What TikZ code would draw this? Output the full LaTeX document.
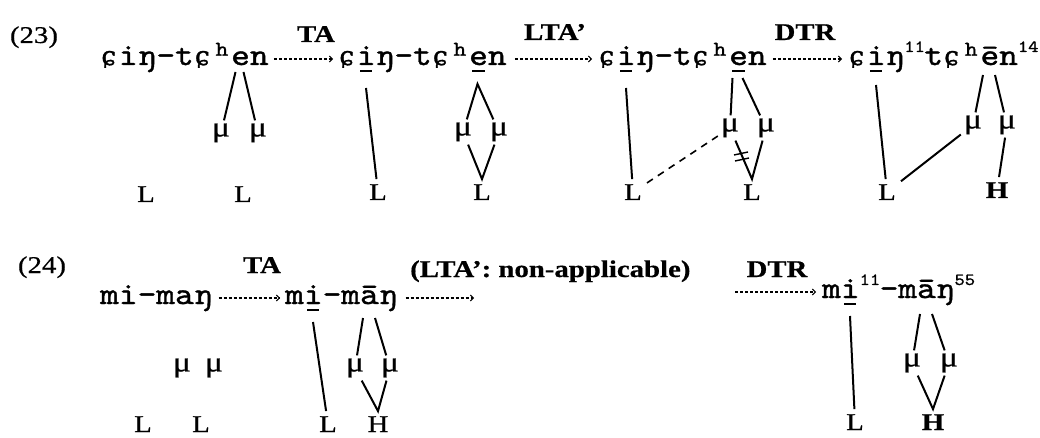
\documentclass[tikz,border=0pt]{standalone}
\usepackage{fontspec}
\setmainfont{Liberation Serif}[FakeStretch=1.2, FakeBold=0.6]
\newfontfamily\typew{lmmono10-regular.otf}[FakeStretch=1.15, FakeBold=1.2]
\newfontfamily\ipafont{DejaVu Serif}[Scale=0.85, FakeBold=1.2]
\usetikzlibrary{arrows.meta}

\newcommand{\cz}{\rlap{\hspace{.04em}\ipafont ɕ}\hphantom{x}}
\newcommand{\asp}{\rlap{\hspace{.1em}\raisebox{.3em}{\fontsize{21}{21}\selectfont h}}\hphantom{x}}
\newcommand{\uv}[1]{\makebox[0pt][l]{\hspace{.1em}\rule[-.24em]{.4em}{.07em}}#1}
\newcommand{\tnum}[1]{\makebox[20pt][l]{\raisebox{.42em}{\fontsize{17}{17}\selectfont #1}}}

\tikzset{
  word/.style={font=\typew\fontsize{31}{31}\selectfont, inner sep=0pt, anchor=base west},
  mora/.style={font=\fontsize{28}{28}\selectfont, inner sep=3pt},
  tone/.style={font=\fontsize{24}{24}\selectfont, inner sep=5pt, anchor=base},
  exnum/.style={font=\fontsize{24}{24}\selectfont, anchor=base},
  rulename/.style={font=\bfseries\fontsize{24}{24}\selectfont, anchor=base, inner sep=0pt},
  assoc/.style={line width=2pt},
  derive/.style={line width=1.1pt, dash pattern=on 3pt off 2pt,
    -{Straight Barb[length=3pt,width=6pt,line width=1pt]}},
}

\begin{document}
\begin{tikzpicture}[x=1pt,y=-1pt]
\useasboundingbox (0,0) rectangle (1040,438);

% (23)
\node[exnum] (ex23) at (34,43) {(23)};
\node[rulename] (ta1) at (316,42) {TA};
\node[rulename] (lta1) at (555,40) {LTA’};
\node[rulename] (dtr1) at (805,40) {DTR};

\node[word] (w1) at (100,65) {\cz iŋ-t\cz\asp en};
\node[word] (w2) at (338,65) {\cz\uv{i}ŋ-t\cz\asp\uv{e}n};
\node[word] (w3) at (598,65) {\cz\uv{i}ŋ-t\cz\asp\uv{e}n};
\node[word] (w4) at (848,65) {\cz\uv{i}ŋ\tnum{11}t\cz\asp ēn\tnum{14}};

\draw[derive] ([shift={(5pt,6pt)}]w1.base east) -- ([shift={(-5pt,6pt)}]w2.base west);
\draw[derive] ([shift={(8pt,6pt)}]w2.base east) -- ([shift={(-6pt,6pt)}]w3.base west);
\draw[derive] ([shift={(6pt,6pt)}]w3.base east) -- ([shift={(-6pt,6pt)}]w4.base west);

% first form
\coordinate (w1e) at (239.5,72);
\node[mora] (m1) at (221,133) {μ};
\node[mora] (m2) at (258,133) {μ};
\node[tone] (l1) at (146,202) {L};
\node[tone] (l2) at (243,202) {L};
\draw[assoc] ([xshift=-4pt]w1e) -- (m1);
\draw[assoc] ([xshift=4pt]w1e) -- (m2);

% after TA
\coordinate (w2i) at (366,88);
\coordinate (w2e) at (477.5,84);
\node[mora] (m3) at (463,132) {μ};
\node[mora] (m4) at (499,132) {μ};
\node[tone] (l3) at (378,200) {L};
\node[tone] (l4) at (482,200) {L};
\draw[assoc] (w2i) -- (l3);
\draw[assoc] (m3) -- (w2e) -- (m4);
\draw[assoc] (m3) -- (l4.north) -- (m4);

% after LTA'
\coordinate (w3i) at (626,88);
\coordinate (w3e) at (737.5,78);
\node[mora] (m5) at (730,128) {μ};
\node[mora] (m6) at (766,128) {μ};
\node[tone] (l5) at (633,200) {L};
\node[tone] (l6) at (752,200) {L};
\draw[assoc] (w3i) -- (l5);
\draw[assoc] ([xshift=-5pt]w3e) -- (m5);
\draw[assoc] ([xshift=5pt]w3e) -- (m6);
\draw[assoc] (m5) -- (l6.north) -- (m6);
\draw[line width=1.6pt, dash pattern=on 7pt off 6pt] (l5) -- (m5);
% delinking mark
\draw[line width=1.4pt] (734,155) -- (748,152) (735,161) -- (749,158);

% after DTR
\coordinate (w4i) at (876,85);
\coordinate (w4e) at (989,75);
\node[mora] (m7) at (973,125) {μ};
\node[mora] (m8) at (1007,125) {μ};
\node[tone] (l7) at (887,200) {L};
\node[tone, font=\bfseries\fontsize{24}{24}\selectfont] (h1) at (997,198) {H};
\draw[assoc] (w4i) -- (l7);
\draw[assoc] ([xshift=-6pt]w4e) -- (m7);
\draw[assoc] ([xshift=6pt]w4e) -- (m8);
\draw[assoc] (m7) -- (l7);
\draw[assoc] (m8) -- (h1);

% (24)
\node[exnum] (ex24) at (42,273) {(24)};
\node[rulename] (ta2) at (262,273) {TA};
\node[rulename, anchor=base west] (lta2) at (410,277) {(LTA’: non-applicable)};
\node[rulename] (dtr2) at (777,277) {DTR};

\node[word] (w5) at (100,304) {mi-maŋ};
\node[word] (w6) at (285,304) {m\uv{i}-māŋ};
\node[word] (w7) at (822,298) {m\uv{i}\tnum{11}-māŋ\tnum{55}};
\coordinate (gap1) at (474,298);
\coordinate (gap2) at (735,292);

\draw[derive] ([shift={(6pt,6pt)}]w5.base east) -- ([shift={(-5pt,6pt)}]w6.base west);
\draw[derive] ([shift={(8pt,6pt)}]w6.base east) -- (gap1);
\draw[derive] (gap2) -- ([shift={(-6pt,6pt)}]w7.base west);

% first form
\node[mora] (m9) at (182,368) {μ};
\node[mora] (m10) at (214,368) {μ};
\node[tone] (l8) at (143,432) {L};
\node[tone] (l9) at (201,432) {L};

% after TA
\coordinate (w6i) at (313,322);
\coordinate (w6a) at (369,318);
\node[mora] (m11) at (355,368) {μ};
\node[mora] (m12) at (390,368) {μ};
\node[tone] (l10) at (328,432) {L};
\node[tone] (h2) at (378,432) {H};
\draw[assoc] (w6i) -- (l10);
\draw[assoc] ([xshift=-6pt]w6a) -- (m11);
\draw[assoc] ([xshift=6pt]w6a) -- (m12);
\draw[assoc] (m11) -- (h2.north) -- (m12);

% after DTR
\coordinate (w7i) at (850,316);
\coordinate (w7a) at (926,314);
\node[mora] (m13) at (912,363) {μ};
\node[mora] (m14) at (949,363) {μ};
\node[tone] (l11) at (855,430) {L};
\node[tone, font=\bfseries\fontsize{24}{24}\selectfont] (h3) at (933,430) {H};
\draw[assoc] (w7i) -- (l11);
\draw[assoc] ([xshift=-6pt]w7a) -- (m13);
\draw[assoc] ([xshift=6pt]w7a) -- (m14);
\draw[assoc] (m13) -- (h3.north) -- (m14);
\end{tikzpicture}
\end{document}
